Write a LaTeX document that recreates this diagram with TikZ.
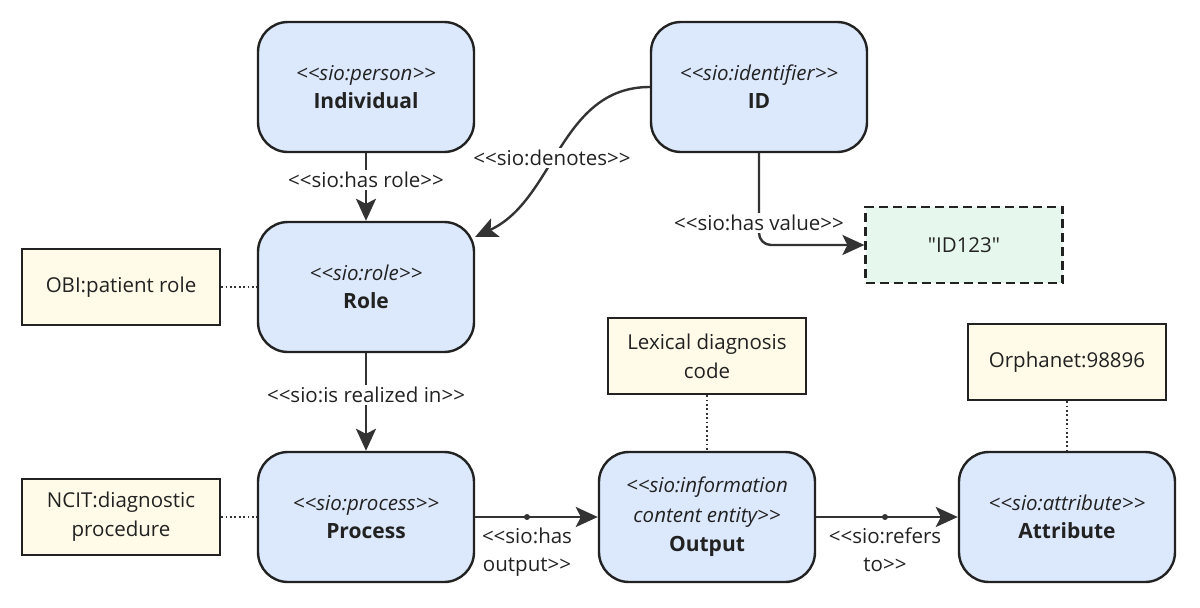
\documentclass[tikz,border=0pt]{standalone}
\usepackage{fontspec}
\setmainfont{Open Sans}[Ligatures=TeXOff]
\usetikzlibrary{arrows.meta,positioning}
\definecolor{bluefill}{HTML}{DCE8FC}
\definecolor{yelfill}{HTML}{FFFBE8}
\definecolor{grnfill}{HTML}{E6F8EE}
\definecolor{edgec}{HTML}{333333}
\definecolor{txtc}{HTML}{222222}
\tikzset{
  x=1pt, y=-1pt,
  entity/.style={draw=txtc, line width=2.4pt, fill=bluefill, rounded corners=30pt,
    minimum width=216pt, minimum height=130pt, align=center, text=txtc, inner sep=2pt,
    font=\fontsize{20.5}{28}\selectfont},
  annot/.style={draw=txtc, line width=2.2pt, fill=yelfill, minimum width=198pt,
    minimum height=76pt, align=center, text=txtc, font=\fontsize{20.5}{29}\selectfont, inner sep=2pt},
  valbox/.style={draw=txtc, line width=2.2pt, fill=grnfill, dashed, dash pattern=on 9pt off 5pt,
    minimum width=197pt, minimum height=76pt, align=center, text=txtc, font=\fontsize{20.5}{28}\selectfont},
  rel/.style={draw=edgec, line width=2.4pt, -{Stealth[length=22pt,width=20pt,inset=5pt]}},
  dotl/.style={draw=edgec, line width=2.2pt, dash pattern=on 1.8pt off 2.6pt},
  lbl/.style={fill=white, text=txtc, font=\fontsize{20.5}{28}\selectfont, align=center, inner sep=2pt}
}
\newcommand{\ent}[2]{{\itshape #1}\\{\fontsize{21}{28}\selectfont\bfseries #2}}
\begin{document}
\begin{tikzpicture}
\useasboundingbox (0,0) rectangle (1200,608);
\node[entity] (ind) at (366,87) {\ent{<<sio:person>>}{Individual}};
\node[entity] (id) at (759,87) {\ent{<<sio:identifier>>}{ID}};
\node[entity] (role) at (366,287) {\ent{<<sio:role>>}{Role}};
\node[entity] (proc) at (366,517) {\ent{<<sio:process>>}{Process}};
\node[entity, font=\fontsize{20.5}{29.5}\selectfont] (out) at (707,517) {\itshape <<sio:information\\\itshape content entity>>\\\fontsize{21}{29.5}\selectfont\upshape\bfseries Output};
\node[entity] (attr) at (1067,517) {\ent{<<sio:attribute>>}{Attribute}};
\node[valbox] (val) at (964,245) {"ID123"};
\node[annot] (obi) at (121,287) {OBI:patient role};
\node[annot] (ncit) at (121,517) {NCIT:diagnostic\\procedure};
\node[annot] (lex) at (707,356) {Lexical diagnosis\\code};
\node[annot] (orph) at (1067,362) {Orphanet:98896};
\coordinate (pm) at (527,517);
\coordinate (om) at (885,517);
% relations
\draw[rel] (ind.south) -- (role.north) node[lbl, pos=0.4] {<<sio:has role>>};
\draw[rel] (id.west) .. controls (560,87) and (555,200) .. ([yshift=-16pt]role.north east) node[lbl, pos=0.55] {<<sio:denotes>>};
\draw[rel, rounded corners=12pt] (id.south) |- (val.west) node[lbl, pos=0.38] {<<sio:has value>>};
\draw[rel] (role.south) -- (proc.north) node[lbl, pos=0.43] {<<sio:is realized in>>};
\draw[rel] (proc.east) -- (out.west);
\draw[rel] (out.east) -- (attr.west);
\fill[edgec] (pm) circle (3pt);
\fill[edgec] (om) circle (3pt);
\node[lbl, fill=none, anchor=north] (l1) at ([yshift=-9pt]pm) {<<sio:has\\output>>};
\node[lbl, fill=none, anchor=north] (l2) at ([yshift=-9pt]om) {<<sio:refers\\to>>};
% annotation links
\draw[dotl] (obi.east) -- (role.west);
\draw[dotl] (ncit.east) -- (proc.west);
\draw[dotl] (lex.south) -- (out.north);
\draw[dotl] (orph.south) -- (attr.north);
\end{tikzpicture}
\end{document}
